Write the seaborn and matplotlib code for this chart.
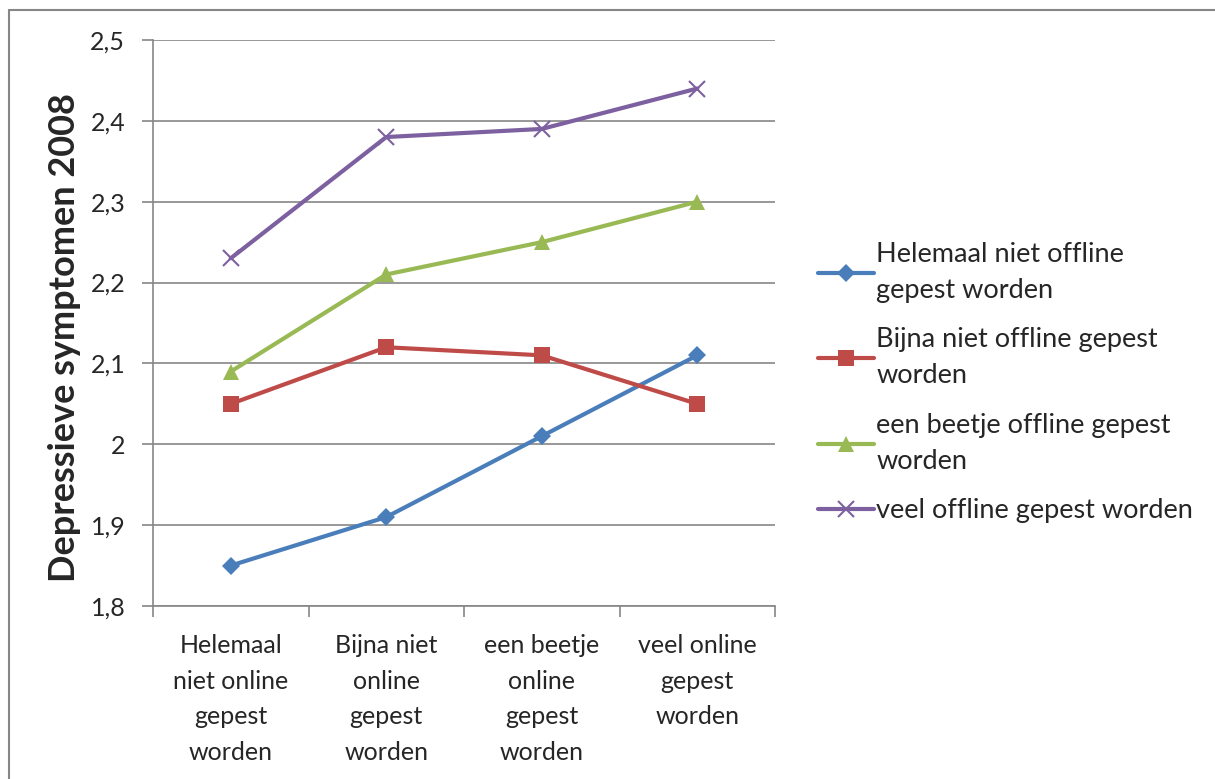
import matplotlib
matplotlib.use('Agg')
import matplotlib.pyplot as plt
import matplotlib.ticker as mticker
from matplotlib.lines import Line2D
import seaborn as sns
import pandas as pd

# Data
categories = [
    'Helemaal\nniet online\ngepest\nworden',
    'Bijna niet\nonline\ngepest\nworden',
    'een beetje\nonline\ngepest\nworden',
    'veel online\ngepest\nworden',
]
series_labels = [
    'Helemaal niet offline\ngepest worden',
    'Bijna niet offline gepest\nworden',
    'een beetje offline gepest\nworden',
    'veel offline gepest worden',
]
helemaal_niet = [1.85, 1.91, 2.01, 2.11]
bijna_niet = [2.05, 2.12, 2.11, 2.05]
een_beetje = [2.09, 2.21, 2.25, 2.30]
veel = [2.23, 2.38, 2.39, 2.44]

series_values = [helemaal_niet, bijna_niet, een_beetje, veel]
colors = ['#4A7EBB', '#BE4B48', '#98B954', '#7D60A0']
markers = ['D', 's', '^', 'x']
marker_sizes = [9, 12, 12, 11]

sns.set_theme(style='white')
plt.rcParams['font.family'] = ['Lato', 'DejaVu Sans']

fig = plt.figure(figsize=(12.15, 7.79), dpi=100)
ax = fig.add_axes([153 / 1215, 1 - 606 / 779, (775 - 153) / 1215, (606 - 40) / 779])

for label, vals, col, mk, ms in zip(series_labels, series_values, colors, markers, marker_sizes):
    df = pd.DataFrame({'x': list(range(len(categories))), 'y': vals})
    sns.lineplot(data=df, x='x', y='y', ax=ax, color=col, linewidth=3,
                 marker=mk, markersize=ms, markeredgecolor=col,
                 markeredgewidth=1.5 if mk == 'x' else 0, label=label,
                 sort=False, zorder=3)

ax.set_xlim(-0.5, len(categories) - 0.5)
ax.set_ylim(1.8, 2.5)
ax.yaxis.set_major_locator(mticker.MultipleLocator(0.1))
ax.yaxis.set_major_formatter(mticker.FuncFormatter(lambda v, p: f'{round(v, 1):g}'.replace('.', ',')))
ax.grid(True, axis='y', color='#868686', linewidth=1.2)
ax.set_axisbelow(True)

ax.set_xticks(range(len(categories)))
ax.set_xticklabels(categories, fontsize=18, linespacing=1.67)
ax.set_xticks([i - 0.5 for i in range(len(categories) + 1)], minor=True)
ax.tick_params(axis='x', which='major', length=0, pad=20)
ax.tick_params(axis='x', which='minor', length=8, width=1.2, color='#868686', bottom=True)
ax.tick_params(axis='y', length=8, width=1.2, color='#868686', labelsize=18, pad=12, left=True)

for side in ['top', 'right']:
    ax.spines[side].set_visible(False)
for side in ['left', 'bottom']:
    ax.spines[side].set_color('#868686')
    ax.spines[side].set_linewidth(1.2)

ax.set_xlabel('')
ax.set_ylabel('Depressieve symptomen 2008', fontsize=26, fontweight='bold', va='center')
ax.yaxis.set_label_coords(-0.1415, 0.474)

leg = ax.legend(loc='center left', bbox_to_anchor=(1.03, 0.395), frameon=False,
                fontsize=19.5, handlelength=2.05, handletextpad=0.1,
                labelspacing=0.9)
for t in leg.get_texts():
    t.set_linespacing(1.55)

# outer chart frame
fig.add_artist(Line2D([9 / 1215, 1.0], [1 - 10 / 779, 1 - 10 / 779], color='#868686', linewidth=1.5))
fig.add_artist(Line2D([9 / 1215, 9 / 1215], [0.0, 1 - 10 / 779], color='#868686', linewidth=1.5))

fig.savefig('out.png', dpi=100, facecolor='white')
